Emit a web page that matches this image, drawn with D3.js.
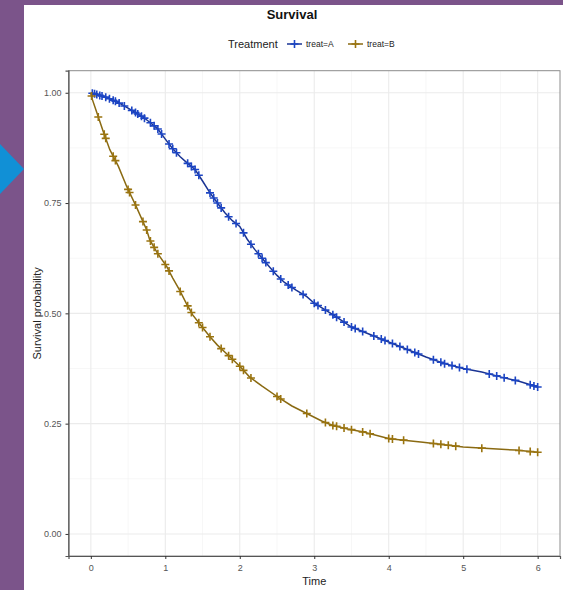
<!DOCTYPE html>
<html>
<head>
<meta charset="utf-8">
<script src="https://cdn.jsdelivr.net/npm/d3@7"></script>
<style>
  body { margin: 0; background: #7b548a; }
  svg { display: block; font-family: "Liberation Sans", Arial, sans-serif; }
</style>
</head>
<body>
<svg id="chart" width="563" height="590"></svg>
<script>
// Survival curve A
var timeA = [0, 0.1, 0.2, 0.3, 0.4, 0.5, 0.6, 0.7, 0.8, 0.9, 1.0, 1.1, 1.2, 1.3, 1.4, 1.5, 1.6, 1.7, 1.8, 1.9, 2.0,
             2.1, 2.2, 2.3, 2.4, 2.5, 2.6, 2.75, 2.9, 3.0, 3.25, 3.5, 3.75, 4.0, 4.25, 4.5, 4.75, 5.0, 5.25, 5.5, 5.75, 6.0];
var survA = [1.0, 0.995, 0.99, 0.983, 0.975, 0.965, 0.955, 0.945, 0.932, 0.918, 0.895, 0.873, 0.855, 0.84, 0.826, 0.8,
             0.773, 0.75, 0.728, 0.71, 0.697, 0.668, 0.645, 0.625, 0.605, 0.586, 0.57, 0.553, 0.538, 0.523, 0.497, 0.469,
             0.452, 0.435, 0.418, 0.401, 0.386, 0.375, 0.367, 0.356, 0.346, 0.333];
// Survival curve B
var timeB = [0, 0.02, 0.08, 0.165, 0.255, 0.37, 0.48, 0.61, 0.75, 0.79, 0.9, 1.02, 1.1, 1.19, 1.28, 1.37, 1.5, 1.6, 1.7,
             1.82, 2.0, 2.13, 2.3, 2.54, 2.7, 2.9, 3.1, 3.25, 3.45, 3.66, 4.01, 4.46, 5.0, 5.4, 5.7, 6.0];
var survB = [1.0, 0.985, 0.955, 0.913, 0.871, 0.833, 0.788, 0.742, 0.689, 0.667, 0.635, 0.606, 0.58, 0.553, 0.523, 0.496,
             0.468, 0.447, 0.428, 0.409, 0.38, 0.356, 0.335, 0.307, 0.29, 0.273, 0.256, 0.246, 0.238, 0.231, 0.216, 0.208,
             0.197, 0.193, 0.19, 0.185];
// Censored times
var censorA = [0.02, 0.05, 0.08, 0.12, 0.15, 0.2, 0.25, 0.3, 0.33, 0.38, 0.45, 0.55, 0.6, 0.63, 0.68, 0.72, 0.8, 0.85, 0.9,
               0.95, 1.05, 1.1, 1.15, 1.3, 1.35, 1.4, 1.45, 1.6, 1.65, 1.7, 1.75, 1.85, 1.95, 2.05, 2.15, 2.25, 2.3, 2.35,
               2.45, 2.55, 2.65, 2.7, 2.85, 3.0, 3.05, 3.15, 3.25, 3.3, 3.4, 3.5, 3.55, 3.65, 3.8, 3.9, 3.95, 4.05, 4.15,
               4.25, 4.35, 4.4, 4.6, 4.7, 4.75, 4.85, 4.95, 5.05, 5.35, 5.45, 5.55, 5.7, 5.9, 5.95, 6.0];
var censorB = [0.01, 0.1, 0.18, 0.2, 0.3, 0.33, 0.5, 0.52, 0.6, 0.7, 0.75, 0.8, 0.85, 0.9, 1.0, 1.05, 1.2, 1.3, 1.35, 1.45,
               1.5, 1.6, 1.75, 1.85, 1.9, 2.0, 2.05, 2.15, 2.5, 2.55, 2.9, 3.15, 3.25, 3.3, 3.4, 3.5, 3.65, 3.75, 4.0,
               4.05, 4.2, 4.6, 4.7, 4.8, 4.9, 5.25, 5.75, 5.9, 6.0];
var xTicks = [0, 1, 2, 3, 4, 5, 6];
var yTicks = [0, 0.25, 0.5, 0.75, 1];
var groups = ["treat=A", "treat=B"];
var colors = ["#1c45c4", "#9a7410"];
var lineColors = ["#1a3494", "#8a6a12"];

var svg = d3.select("#chart");

// background bits: white card, blue arrow
svg.append("rect").attr("x", 24).attr("y", 5).attr("width", 539).attr("height", 585).attr("fill", "#fff");
svg.append("path").attr("d", "M0,144 L24,169 L0,194 Z").attr("fill", "#1190d6");

var pLeft = 68.5, pRight = 560, pTop = 70.7, pBottom = 556;
var x = d3.scaleLinear().domain([-0.3, 6.3]).range([pLeft, pRight]);
var y = d3.scaleLinear().domain([-0.05, 1.05]).range([pBottom, pTop]);

var grid = svg.append("g");
// minor grid
d3.range(0, 6, 1).forEach(function(v) {
  grid.append("line").attr("x1", x(v + 0.5)).attr("x2", x(v + 0.5)).attr("y1", pTop).attr("y2", pBottom)
    .attr("stroke", "#f2f2f2").attr("stroke-width", 0.6);
});
[0.125, 0.375, 0.625, 0.875].forEach(function(v) {
  grid.append("line").attr("y1", y(v)).attr("y2", y(v)).attr("x1", pLeft).attr("x2", pRight)
    .attr("stroke", "#f2f2f2").attr("stroke-width", 0.6);
});
// major grid
xTicks.forEach(function(v) {
  grid.append("line").attr("x1", x(v)).attr("x2", x(v)).attr("y1", pTop).attr("y2", pBottom)
    .attr("stroke", "#ebebeb").attr("stroke-width", 1.1);
});
yTicks.forEach(function(v) {
  grid.append("line").attr("y1", y(v)).attr("y2", y(v)).attr("x1", pLeft).attr("x2", pRight)
    .attr("stroke", "#ebebeb").attr("stroke-width", 1.1);
});

// panel border
svg.append("rect").attr("x", pLeft).attr("y", pTop).attr("width", pRight - pLeft).attr("height", pBottom - pTop)
  .attr("fill", "none").attr("stroke", "#8c8c8c").attr("stroke-width", 1);

// axes
var xAxis = svg.append("g").attr("transform", "translate(0," + pBottom + ")")
  .call(d3.axisBottom(x).tickValues(xTicks).tickSize(3).tickPadding(6).tickFormat(d3.format("d")));
var yAxis = svg.append("g").attr("transform", "translate(" + pLeft + ",0)")
  .call(d3.axisLeft(y).tickValues(yTicks).tickSize(3).tickPadding(4).tickFormat(d3.format(".2f")));
[xAxis, yAxis].forEach(function(a) {
  a.select(".domain").attr("stroke", "#555").attr("stroke-width", 1.2);
  a.selectAll(".tick line").attr("stroke", "#333");
  a.selectAll(".tick text").attr("fill", "#555").style("font-size", "9px").style("font-family", "Liberation Sans, Arial, sans-serif");
});

// curves
var series = [
  { t: timeA, s: survA, c: censorA },
  { t: timeB, s: survB, c: censorB }
];
var line = d3.line().x(function(d) { return x(d[0]); }).y(function(d) { return y(d[1]); });

series.forEach(function(sr, i) {
  var pts = sr.t.map(function(t, k) { return [t, sr.s[k]]; });
  svg.append("path").datum(pts).attr("d", line).attr("fill", "none")
    .attr("stroke", lineColors[i]).attr("stroke-width", 1.5);
  var lookup = d3.scaleLinear().domain(sr.t).range(sr.s);
  var g = svg.append("g");
  sr.c.forEach(function(t) {
    var cx = x(t), cy = y(lookup(t));
    g.append("path").attr("d", "M" + (cx - 4) + "," + cy + "h8M" + cx + "," + (cy - 4) + "v8")
      .attr("stroke", colors[i]).attr("stroke-width", 1.6).attr("fill", "none");
  });
});

// titles
svg.append("text").attr("x", 292).attr("y", 19).attr("text-anchor", "middle")
  .style("font-size", "13px").style("font-weight", "bold").attr("fill", "#111").text("Survival");
svg.append("text").attr("x", (pLeft + pRight) / 2).attr("y", 585).attr("text-anchor", "middle")
  .style("font-size", "11px").attr("fill", "#222").text("Time");
svg.append("text").attr("transform", "translate(41," + ((pTop + pBottom) / 2) + ") rotate(-90)")
  .attr("text-anchor", "middle").style("font-size", "11px").attr("fill", "#222").text("Survival probability");

// legend
var lg = svg.append("g");
lg.append("text").attr("x", 228).attr("y", 48).style("font-size", "11px").attr("fill", "#222").text("Treatment");
var keyX = [287, 348];
groups.forEach(function(name, i) {
  var kx = keyX[i];
  lg.append("line").attr("x1", kx).attr("x2", kx + 15).attr("y1", 44).attr("y2", 44)
    .attr("stroke", lineColors[i]).attr("stroke-width", 1.5);
  lg.append("path").attr("d", "M" + (kx + 3.5) + ",44h8M" + (kx + 7.5) + ",40v8")
    .attr("stroke", colors[i]).attr("stroke-width", 1.6);
  lg.append("text").attr("x", kx + 19).attr("y", 47).style("font-size", "8.5px").attr("fill", "#222").text(name);
});
</script>
</body>
</html>
